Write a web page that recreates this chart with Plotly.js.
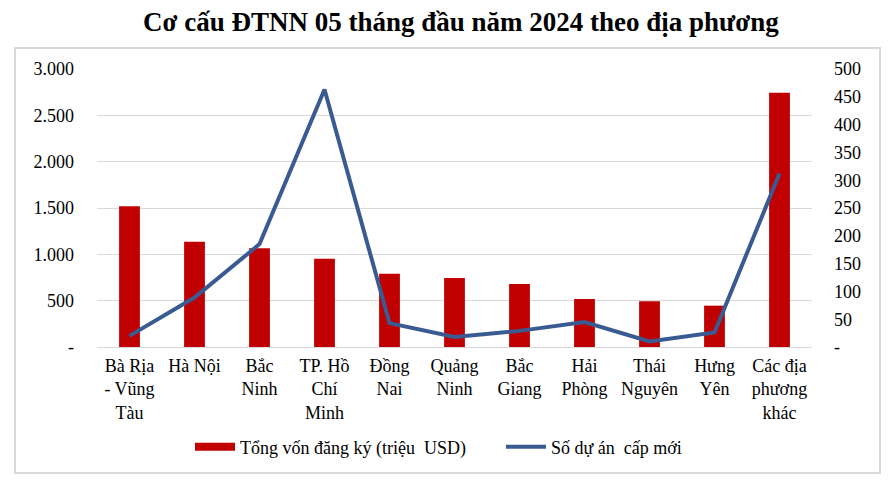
<!DOCTYPE html>
<html>
<head>
<meta charset="utf-8">
<script src="https://cdn.plot.ly/plotly-3.0.1.min.js"></script>
<style>
  html, body { margin: 0; padding: 0; background: #fff; }
  #plot { width: 895px; height: 485px; }
</style>
</head>
<body>
<div id="plot"></div>
<script>
// data
const provinces = [
    'Bà Rịa<br>- Vũng<br>Tàu', 'Hà Nội', 'Bắc<br>Ninh', 'TP. Hồ<br>Chí<br>Minh', 'Đồng<br>Nai',
    'Quảng<br>Ninh', 'Bắc<br>Giang', 'Hải<br>Phòng', 'Thái<br>Nguyên', 'Hưng<br>Yên', 'Các địa<br>phương<br>khác'
];
const registeredCapital = [1520, 1136, 1065, 953, 791, 744, 680, 518, 493, 446, 2743];
const newProjects = [20, 89, 185, 463, 43, 18, 29, 45, 10, 26, 312];

const leftTickVals = [0, 500, 1000, 1500, 2000, 2500, 3000];
const leftTickText = ['-', '500', '1.000', '1.500', '2.000', '2.500', '3.000'];
const rightTickVals = [0, 50, 100, 150, 200, 250, 300, 350, 400, 450, 500];
const rightTickText = ['-', '50', '100', '150', '200', '250', '300', '350', '400', '450', '500'];

const barName = 'Tổng vốn đăng ký (triệu&nbsp; USD)';
const lineName = 'Số dự án&nbsp; cấp mới';

const serif = '"Times New Roman", "Liberation Serif", serif';
const red = '#c00000';
const blue = '#3a5a92';

const traces = [{
    type: 'bar',
    x: provinces,
    y: registeredCapital,
    marker: {color: red},
    width: 0.32,
    showlegend: false,
    name: barName
}, {
    // legend swatch for the bars (wide red block like the original)
    type: 'scatter',
    mode: 'lines',
    x: [null],
    y: [null],
    line: {color: red, width: 8},
    name: barName
}, {
    type: 'scatter',
    mode: 'lines',
    x: provinces,
    y: newProjects,
    yaxis: 'y2',
    line: {color: blue, width: 4},
    name: lineName
}];

const layout = {
    width: 895,
    height: 485,
    margin: {l: 97, r: 83, t: 69, b: 138},
    paper_bgcolor: '#fff',
    plot_bgcolor: '#fff',
    font: {family: serif, size: 18, color: '#000'},
    title: {
        text: '<b>Cơ cấu ĐTNN 05 tháng đầu năm 2024 theo địa phương</b>',
        font: {family: serif, size: 27, color: '#000'},
        x: 0.515, xref: 'container', xanchor: 'center',
        y: 0.955, yref: 'container', yanchor: 'middle'
    },
    xaxis: {
        type: 'category',
        showgrid: false,
        showline: false,
        zeroline: false,
        ticks: '',
        tickfont: {family: serif, size: 18},
        tickangle: 0,
        ticklabelstandoff: 6
    },
    yaxis: {
        range: [0, 3000],
        tickvals: leftTickVals,
        ticktext: leftTickText,
        showgrid: true,
        gridcolor: '#d9d9d9',
        gridwidth: 1,
        zeroline: true,
        zerolinecolor: '#d9d9d9',
        zerolinewidth: 1,
        showline: false,
        ticks: '',
        ticklabelstandoff: 22,
        tickfont: {family: serif, size: 18}
    },
    yaxis2: {
        range: [0, 500],
        overlaying: 'y',
        side: 'right',
        tickvals: rightTickVals,
        ticktext: rightTickText,
        showgrid: false,
        zeroline: false,
        showline: false,
        ticks: '',
        ticklabelstandoff: 21,
        tickfont: {family: serif, size: 18}
    },
    legend: {
        orientation: 'h',
        x: 190 / 895, xref: 'container', xanchor: 'left',
        y: 38 / 485, yref: 'container', yanchor: 'middle',
        font: {family: serif, size: 18},
        itemwidth: 40,
        entrywidth: 256,
        traceorder: 'normal'
    },
    shapes: [{
        type: 'rect',
        xref: 'paper', yref: 'paper',
        x0: -0.1147, x1: 1.0951,
        y0: -0.4532, y1: 1.0755,
        line: {color: '#d9d9d9', width: 2},
        fillcolor: 'rgba(0,0,0,0)',
        layer: 'below'
    }]
};

Plotly.newPlot('plot', traces, layout, {displayModeBar: false, staticPlot: true});
</script>
</body>
</html>
